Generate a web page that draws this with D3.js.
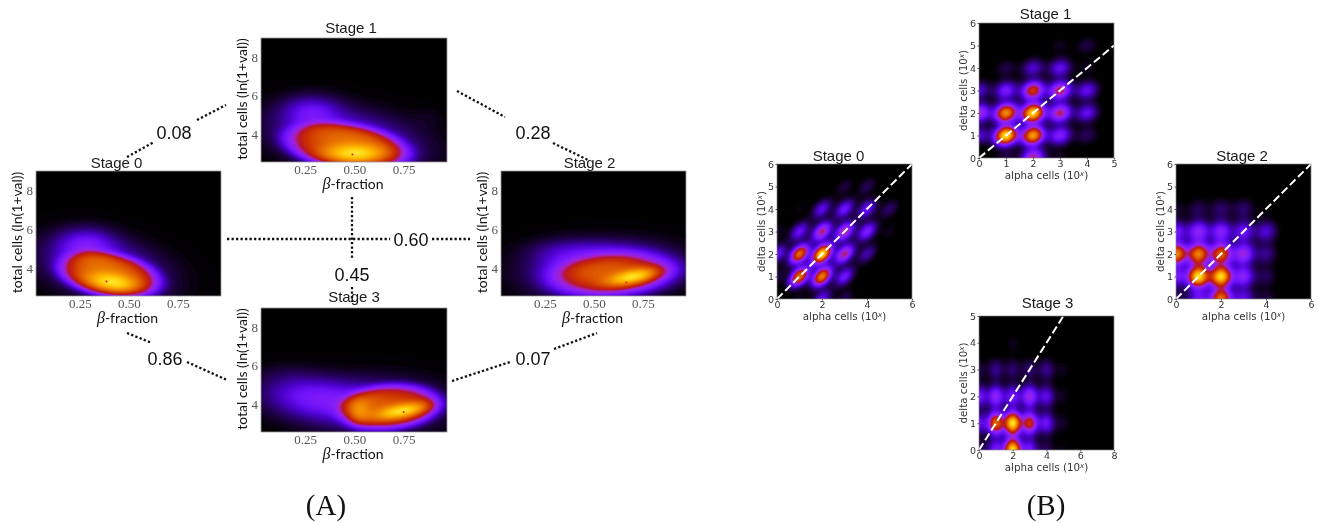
<!DOCTYPE html>
<html>
<head>
  <meta charset="utf-8">
  <script src="https://cdn.jsdelivr.net/npm/d3@7"></script>
  <style>
    html, body { margin: 0; padding: 0; background: #fff; }
    svg { display: block; filter: blur(0.45px); }
    .title { font-family: "Liberation Sans", sans-serif; font-size: 15px; fill: #1a1a1a; text-anchor: middle; }
    .tickA text { font-family: "Liberation Serif", serif; font-size: 13px; fill: #555; }
    .tickB text { font-family: "DejaVu Sans", sans-serif; font-size: 9.5px; fill: #333; }
    .labelA { font-family: "Lato", sans-serif; font-size: 14px; fill: #111; text-anchor: middle; }
    .labelB { font-family: "DejaVu Sans", sans-serif; font-size: 10.3px; fill: #333; text-anchor: middle; }
    .corr { font-family: "Liberation Sans", sans-serif; font-size: 18px; fill: #111; text-anchor: middle; }
    .panelTag { font-family: "Liberation Serif", serif; font-size: 29px; fill: #111; text-anchor: middle; }
  </style>
</head>
<body>
<script>
"use strict";

var W = 1319, H = 523;

/* colour ramp of the density images, low to high */
var rampStops = [0, 0.04, 0.1, 0.18, 0.26, 0.36, 0.44, 0.5, 0.58, 0.68, 0.78, 0.87, 0.95, 1];
var rampColors = ["#000000", "#16002e", "#2c0070", "#4a00c8", "#6c10f8", "#8a20f8", "#a820c0", "#b81828",
                  "#cc3000", "#e06000", "#f49000", "#ffc000", "#ffea30", "#ffffa0"];

/* (A) kernels: beta fraction, ln cells, sd x, sd y, tilt, weight, flatness */
var stage0Kernels = [[0.4, 3.65, 0.185, 0.83, -0.3, 0.6, 3], [0.42, 3.2, 0.11, 0.4, -0.3, 0.48, 1], [0.38, 4.0, 0.2, 1.0, -0.3, 0.4, 1],
                     [0.28, 5.25, 0.1, 0.55, 0, 0.3, 1]];
var stage1Kernels = [[0.46, 3.35, 0.225, 0.88, -0.3, 0.6, 3], [0.5, 2.95, 0.13, 0.38, 0, 0.48, 1], [0.46, 3.8, 0.24, 1.0, -0.3, 0.4, 1],
                     [0.28, 5.2, 0.1, 0.55, 0, 0.28, 1], [0.88, 4.9, 0.05, 0.35, 0, 0.03, 1]];
var stage2Kernels = [[0.6, 3.65, 0.225, 0.8, 0.2, 0.6, 2], [0.71, 3.55, 0.1, 0.34, 0.55, 0.55, 1], [0.55, 3.85, 0.24, 0.9, 0.1, 0.4, 1],
                     [0.33, 4.3, 0.11, 0.7, 0, 0.13, 1], [0.5, 4.9, 0.2, 0.4, 0, 0.15, 1]];
var stage3Kernels = [[0.68, 3.85, 0.18, 0.84, 0.15, 0.6, 3], [0.75, 3.65, 0.1, 0.34, 0.55, 0.52, 1], [0.52, 3.5, 0.04, 0.55, 0, 0.2, 1],
                     [0.6, 3.95, 0.24, 0.9, 0, 0.35, 1], [0.27, 4.4, 0.17, 0.75, -0.2, 0.33, 1], [0.15, 5.6, 0.1, 0.4, 0, 0.03, 1]];

var stage0Mode = [0.385, 3.3], stage1Mode = [0.49, 2.95], stage2Mode = [0.665, 3.25], stage3Mode = [0.75, 3.6];

/* (B) peak height at each lattice point, rows are delta 0,1,2.. columns are alpha 0,1,2.. */
var stage0Peaks = [[0.0, 0.05, 0.25, 0.1, 0, 0, 0],
                   [0.08, 0.74, 0.76, 0.3, 0.02, 0, 0],
                   [0.28, 0.72, 0.97, 0.5, 0.18, 0, 0],
                   [0.06, 0.28, 0.5, 0.5, 0.34, 0.05, 0],
                   [0, 0.04, 0.25, 0.3, 0.28, 0.12, 0],
                   [0, 0, 0.02, 0.08, 0.1, 0, 0]];
var stage1Peaks = [[0, 0.08, 0.47, 0.05, 0, 0],
                   [0.2, 0.92, 0.78, 0.33, 0.1, 0],
                   [0.42, 0.75, 0.9, 0.48, 0.25, 0],
                   [0.2, 0.3, 0.58, 0.5, 0.25, 0],
                   [0.02, 0.08, 0.2, 0.25, 0.05, 0],
                   [0, 0, 0.02, 0.05, 0.08, 0]];
var stage2Peaks = [[0.1, 0.28, 0.72, 0.25, 0.08, 0, 0],
                   [0.3, 0.95, 0.93, 0.36, 0.1, 0, 0],
                   [0.78, 0.75, 0.68, 0.42, 0.15, 0, 0],
                   [0.3, 0.38, 0.35, 0.28, 0.22, 0.01, 0],
                   [0.06, 0.1, 0.12, 0.12, 0.03, 0, 0]];
var stage3Peaks = [[0.12, 0.3, 0.95, 0.3, 0.1, 0.04, 0, 0, 0],
                   [0.25, 0.7, 0.95, 0.58, 0.28, 0.06, 0, 0, 0],
                   [0.3, 0.38, 0.3, 0.42, 0.25, 0.05, 0, 0, 0],
                   [0.08, 0.15, 0.12, 0.12, 0.15, 0.05, 0, 0, 0],
                   [0, 0, 0.05, 0.02, 0, 0, 0, 0, 0]];

/* correlations on the links between stages */
var linkValues = ["0.08", "0.28", "0.60", "0.45", "0.86", "0.07"];
var betaTicks = [0.25, 0.5, 0.75], cellTicks = [4, 6, 8];

var svg = d3.select("body").append("svg").attr("width", W).attr("height", H);

var colorScale = d3.scaleLinear().domain(rampStops).range(rampColors).clamp(true);

var levels = d3.range(0.004, 1.0, 0.012);

/* grid of densities -> filled contours, one path per level */
function drawDensity(g, w, h, headroom, floor, valueAt) {
  var values = new Float64Array(w * h), top = 0;
  for (var j = 0; j < h; j++) {
    for (var i = 0; i < w; i++) {
      var v = valueAt(i + 0.5, j + 0.5);
      values[j * w + i] = v;
      if (v > top) top = v;
    }
  }
  for (var k = 0; k < values.length; k++) {
    values[k] = Math.max(0, (values[k] / (top * headroom) - floor) / (1 - floor));
  }
  var contours = d3.contours().size([w, h]).thresholds(levels)(values);
  g.append("rect").attr("width", w).attr("height", h).attr("fill", "#000");
  g.selectAll("path.level").data(contours).enter().append("path")
      .attr("class", "level")
      .attr("d", d3.geoPath())
      .attr("fill", function(d) { return colorScale(d.value); });
}

function gauss(dx, dy, sx, sy, rho, flat) {
  var a = dx / sx, b = dy / sy;
  var q = (a * a - 2 * rho * a * b + b * b) / (2 * (1 - rho * rho));
  return Math.exp(-Math.pow(q, flat));
}

function densityPanel(box, title, kernels, mode, titlePos) {
  var x = d3.scaleLinear().domain([0.0255, 0.97]).range([0, box.w]);
  var y = d3.scaleLinear().domain([2.56, 8.98]).range([box.h, 0]);
  var g = svg.append("g").attr("transform", "translate(" + box.x + "," + box.y + ")");

  drawDensity(g, box.w, box.h, 1.06, 0, function(px, py) {
    var u = x.invert(px), t = y.invert(py), s = 0;
    kernels.forEach(function(c) { s += c[5] * gauss(u - c[0], t - c[1], c[2], c[3], c[4], c[6]); });
    return s;
  });

  g.append("circle").attr("cx", x(mode[0])).attr("cy", y(mode[1])).attr("r", 1).attr("fill", "#e8102a");
  g.append("rect").attr("width", box.w).attr("height", box.h).attr("fill", "none").attr("stroke", "#999").attr("stroke-width", 0.8);

  g.append("g").attr("class", "tickA").attr("transform", "translate(0," + box.h + ")")
      .call(d3.axisBottom(x).tickValues(betaTicks).tickFormat(d3.format(".2f")).tickSize(0).tickPadding(3))
      .call(function(a) { a.select(".domain").remove(); });
  g.append("g").attr("class", "tickA")
      .call(d3.axisLeft(y).tickValues(cellTicks).tickFormat(d3.format("d")).tickSize(0).tickPadding(3))
      .call(function(a) { a.select(".domain").remove(); });

  var xl = g.append("text").attr("class", "labelA").attr("x", box.w / 2 - 1).attr("y", box.h + 27);
  xl.append("tspan").attr("font-family", "Liberation Serif").attr("font-style", "italic").attr("font-size", 16).text("β");
  xl.append("tspan").text("-fraction");
  g.append("text").attr("class", "labelA")
      .attr("transform", "translate(-14," + (box.h / 2 - 1) + ") rotate(-90)")
      .text("total cells (ln(1+val))");
  g.append("text").attr("class", "title").attr("x", box.w / 2 + titlePos[0]).attr("y", titlePos[1]).text(title);
}

function latticePanel(box, title, peaks, spread, xMax, yMax, xTicks, lineEnd, titlePos) {
  var x = d3.scaleLinear().domain([0, xMax]).range([0, box.w]);
  var y = d3.scaleLinear().domain([0, yMax]).range([box.h, 0]);
  var g = svg.append("g").attr("transform", "translate(" + box.x + "," + box.y + ")");

  drawDensity(g, box.w, box.h, 1.05, 0.02, function(px, py) {
    var u = x.invert(px), t = y.invert(py), s = 0;
    peaks.forEach(function(row, r) {
      row.forEach(function(p, c) {
        if (p > 0) s += p * gauss(u - c, t - r, spread[0], spread[1], spread[2], 1);
      });
    });
    return s;
  });

  var clipId = "clip" + title.replace(" ", "");
  g.append("clipPath").attr("id", clipId).append("rect").attr("width", box.w).attr("height", box.h);
  g.append("line").attr("clip-path", "url(#" + clipId + ")")
      .attr("x1", x(0)).attr("y1", y(0)).attr("x2", x(lineEnd)).attr("y2", y(lineEnd))
      .attr("stroke", "#fff").attr("stroke-width", 2).attr("stroke-dasharray", "8 3.5");
  g.append("rect").attr("width", box.w).attr("height", box.h).attr("fill", "none").attr("stroke", "#888").attr("stroke-width", 0.7);

  g.append("g").attr("class", "tickB").attr("transform", "translate(0," + box.h + ")")
      .call(d3.axisBottom(x).tickValues(xTicks).tickFormat(d3.format("d")).tickSize(1.5).tickPadding(0.5))
      .call(function(a) { a.select(".domain").remove(); a.selectAll("line").attr("stroke", "#555"); });
  g.append("g").attr("class", "tickB")
      .call(d3.axisLeft(y).tickValues(d3.range(0, yMax + 1)).tickFormat(d3.format("d")).tickSize(1.5).tickPadding(1.5))
      .call(function(a) { a.select(".domain").remove(); a.selectAll("line").attr("stroke", "#555"); });

  var xl = g.append("text").attr("class", "labelB").attr("x", box.w / 2).attr("y", box.h + 21).text("alpha cells (10");
  xl.append("tspan").attr("dy", -3.5).attr("font-size", 7).attr("font-style", "italic").text("x");
  xl.append("tspan").attr("dy", 3.5).text(")");
  var yl = g.append("text").attr("class", "labelB")
      .attr("transform", "translate(-12," + (box.h / 2) + ") rotate(-90)").text("delta cells (10");
  yl.append("tspan").attr("dy", -3.5).attr("font-size", 7).attr("font-style", "italic").text("x");
  yl.append("tspan").attr("dy", 3.5).text(")");
  g.append("text").attr("class", "title").attr("x", box.w / 2 + titlePos[0]).attr("y", titlePos[1]).text(title);
}

densityPanel({x: 36, y: 171, w: 185, h: 125}, "Stage 0", stage0Kernels, stage0Mode, [-12, -3]);
densityPanel({x: 261, y: 38, w: 186, h: 124}, "Stage 1", stage1Kernels, stage1Mode, [-3, -5]);
densityPanel({x: 501, y: 171, w: 185, h: 125}, "Stage 2", stage2Kernels, stage2Mode, [-4, -3]);
densityPanel({x: 261, y: 308, w: 186, h: 124}, "Stage 3", stage3Kernels, stage3Mode, [0, -6]);

latticePanel({x: 777, y: 164, w: 135, h: 135}, "Stage 0", stage0Peaks, [0.3, 0.3, 0.45], 6, 6, [0, 2, 4, 6], 6, [-6, -3]);
latticePanel({x: 979, y: 23, w: 135, h: 135}, "Stage 1", stage1Peaks, [0.29, 0.29, 0.15], 5, 6, [0, 1, 2, 3, 4, 5], 5, [-1, -4]);
latticePanel({x: 1176, y: 164, w: 135, h: 135}, "Stage 2", stage2Peaks, [0.33, 0.33, 0.05], 6, 6, [0, 2, 4, 6], 6, [-1.5, -3]);
latticePanel({x: 979, y: 316, w: 135, h: 134}, "Stage 3", stage3Peaks, [0.34, 0.29, 0], 8, 5, [0, 2, 4, 6, 8], 5, [1, -8]);

var linkSegments = [[127, 157, 154, 142], [197, 120, 226, 105], [457, 91, 505, 117], [553, 143, 588, 160],
                    [227, 239, 390, 239], [432, 239, 470, 239], [352, 197, 352, 258], [352, 287, 352, 302],
                    [127, 333, 152, 343], [187, 362, 227, 380], [452, 381, 510, 362], [554, 349, 597, 333]];
var linkLabelPos = [[174, 132], [533, 132], [411, 239], [352, 274], [165, 358], [533, 358]];

svg.selectAll("line.link").data(linkSegments).enter().append("line")
    .attr("class", "link")
    .attr("x1", function(d) { return d[0]; }).attr("y1", function(d) { return d[1]; })
    .attr("x2", function(d) { return d[2]; }).attr("y2", function(d) { return d[3]; })
    .attr("stroke", "#111").attr("stroke-width", 2.3).attr("stroke-dasharray", "2.3 2.2");

svg.selectAll("text.corr").data(linkValues).enter().append("text")
    .attr("class", "corr")
    .attr("x", function(d, i) { return linkLabelPos[i][0]; })
    .attr("y", function(d, i) { return linkLabelPos[i][1] + 6.5; })
    .text(function(d) { return d; });

svg.append("text").attr("class", "panelTag").attr("x", 326).attr("y", 515).text("(A)");
svg.append("text").attr("class", "panelTag").attr("x", 1046).attr("y", 515).text("(B)");
</script>
</body>
</html>
